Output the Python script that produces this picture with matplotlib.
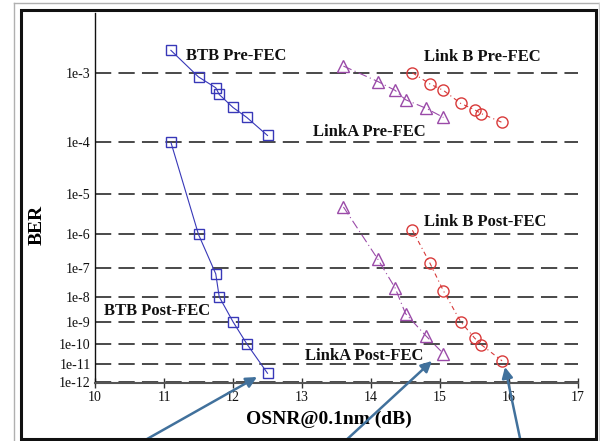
"""BER vs OSNR for back-to-back and two links, pre- and post-FEC."""

import math

import matplotlib
matplotlib.use("Agg")
import matplotlib.pyplot as plt
import numpy as np
from matplotlib.lines import Line2D
from matplotlib.patches import Rectangle
from matplotlib.ticker import NullLocator


OSNR_BTB = [11.1, 11.5, 11.75, 11.8, 12.0, 12.2, 12.5]
BER_BTB_PRE = [1.8e-3, 8.9e-4, 6.5e-4, 5.3e-4, 3.5e-4, 2.5e-4, 1.3e-4]
BER_BTB_POST = [1e-4, 1e-6, 6.5e-8, 1e-8, 1e-9, 1e-10, 3e-12]

OSNR_LINK_A = [13.6, 14.1, 14.35, 14.5, 14.8, 15.05]
BER_LINK_A_PRE = [1.2e-3, 7.8e-4, 6.0e-4, 4.5e-4, 3.4e-4, 2.5e-4]
BER_LINK_A_POST = [5e-6, 1.9e-7, 2.1e-8, 2.2e-9, 2.3e-10, 3.3e-11]

OSNR_LINK_B = [14.6, 14.85, 15.05, 15.3, 15.5, 15.6, 15.9]
BER_LINK_B_PRE = [1e-3, 7.3e-4, 6.0e-4, 4.0e-4, 3.25e-4, 2.85e-4, 2.1e-4]
BER_LINK_B_POST = [1.3e-6, 1.5e-7, 1.65e-8, 1e-9, 1.9e-10, 9e-11, 1.4e-11]

BER_TICKS = [1e-3, 1e-4, 1e-5, 1e-6, 1e-7, 1e-8, 1e-9, 1e-10, 1e-11, 1e-12]
BER_TICK_LABELS = ["1e-3", "1e-4", "1e-5", "1e-6", "1e-7", "1e-8", "1e-9", "1e-10", "1e-11", "1e-12"]
OSNR_TICKS = [10, 11, 12, 13, 14, 15, 16, 17]

SERIF = "Liberation Serif"
SQRT2 = math.sqrt(2.0)
_erfc = np.vectorize(math.erfc, otypes=[float])


def q_from_ber(ber):
    ber = np.clip(np.asarray(ber, dtype=float), 1e-300, 0.4999)
    lo = np.zeros_like(ber)
    hi = np.full_like(ber, 38.0)
    for _ in range(70):
        mid = 0.5 * (lo + hi)
        too_big = 0.5 * _erfc(mid / SQRT2) < ber
        hi = np.where(too_big, mid, hi)
        lo = np.where(too_big, lo, mid)
    return 0.5 * (lo + hi)


def forward(ber):
    # Q-factor in dB, negated so that high BER sits at the top
    return -20.0 * np.log10(q_from_ber(ber))


def inverse(v):
    q = 10.0 ** (-np.asarray(v, dtype=float) / 20.0)
    return 0.5 * _erfc(q / SQRT2)


def main() -> None:
    fig = plt.figure(figsize=(6.0, 4.41), dpi=100)
    ax = fig.add_axes([95 / 600, 1 - 383 / 441, 483 / 600, 370 / 441])

    ax.set_yscale("function", functions=(forward, inverse))
    ax.set_xlim(10, 17)
    ax.set_ylim(8.3e-13, 4.2e-3)

    blue, purple, red = "#3838b8", "#9a4aa8", "#d83a3a"
    ax.plot(OSNR_BTB, BER_BTB_PRE, color=blue, lw=0.8, marker="s", ms=7,
            mfc="none", mec=blue, mew=1.0)
    ax.plot(OSNR_BTB, BER_BTB_POST, color=blue, lw=0.8, marker="s", ms=7,
            mfc="none", mec=blue, mew=1.0)
    ax.plot(OSNR_LINK_A, BER_LINK_A_PRE, color=purple, lw=0.8, ls=(0, (8, 3, 1, 3)),
            marker="^", ms=9, mfc="none", mec=purple, mew=1.0)
    ax.plot(OSNR_LINK_A, BER_LINK_A_POST, color=purple, lw=0.8, ls=(0, (8, 3, 1, 3)),
            marker="^", ms=9, mfc="none", mec=purple, mew=1.0)
    ax.plot(OSNR_LINK_B, BER_LINK_B_PRE, color=red, lw=0.8, ls=(0, (4, 3, 1, 3)),
            marker="o", ms=8, mfc="none", mec=red, mew=1.0)
    ax.plot(OSNR_LINK_B, BER_LINK_B_POST, color=red, lw=0.8, ls=(0, (4, 3, 1, 3)),
            marker="o", ms=8, mfc="none", mec=red, mew=1.0)

    ax.set_yticks(BER_TICKS)
    ax.set_yticklabels(BER_TICK_LABELS)
    ax.yaxis.set_minor_locator(NullLocator())
    ax.set_xticks(OSNR_TICKS)
    ax.set_xticklabels([str(t) for t in OSNR_TICKS])
    ax.tick_params(axis="y", length=0, pad=3, labelsize=10, labelcolor="#111111")
    ax.tick_params(axis="x", direction="inout", length=7, width=1, color="#333333",
                   pad=2, labelsize=10, labelcolor="#111111")
    for label in ax.get_xticklabels() + ax.get_yticklabels():
        label.set_family(SERIF)

    ax.grid(axis="y", color="#3a3a3a", lw=1.3, ls=(0, (9, 4)))
    ax.grid(axis="x", visible=False)
    ax.set_axisbelow(True)
    ax.spines["top"].set_visible(False)
    ax.spines["right"].set_visible(False)
    ax.spines["left"].set_color("#111111")
    ax.spines["left"].set_linewidth(1.0)
    ax.spines["bottom"].set_color("#555555")
    ax.spines["bottom"].set_linewidth(1.5)

    ax.set_xlabel("OSNR@0.1nm (dB)", family=SERIF, fontsize=14, fontweight="bold",
                  va="baseline")
    ax.xaxis.set_label_coords(0.4845, -0.111)
    ax.set_ylabel("BER", family=SERIF, fontsize=14, fontweight="bold", va="center")
    ax.yaxis.set_label_coords(-0.12, 0.427)

    notes = [
        ("BTB Pre-FEC", 0.188, 0.873),
        ("Link B Pre-FEC", 0.681, 0.870),
        ("LinkA Pre-FEC", 0.451, 0.668),
        ("Link B Post-FEC", 0.681, 0.424),
        ("BTB Post-FEC", 0.019, 0.184),
        ("LinkA Post-FEC", 0.435, 0.062),
    ]
    for text, x, y in notes:
        ax.text(x, y, text, transform=ax.transAxes, family=SERIF, fontsize=12,
                fontweight="bold", color="#111111", ha="left", va="baseline")

    # arrows coming up from below the plot
    arrow_color = "#41719c"
    for (x0, y0), (x1, y1) in [((140, 443), (257, 377)),
                               ((343, 443), (432, 361)),
                               ((521, 443), (505, 367))]:
        ax.annotate("", xy=(x1, 441 - y1), xycoords="figure pixels",
                    xytext=(x0, 441 - y0), textcoords="figure pixels",
                    annotation_clip=False,
                    arrowprops=dict(arrowstyle="-|>", color=arrow_color, lw=1.8,
                                    mutation_scale=16, shrinkA=0, shrinkB=0))

    # screenshot frame
    def px(x, y):
        return x / 600, 1 - y / 441

    fig.add_artist(Line2D([px(14, 0)[0], px(14, 0)[0]], [px(0, 3)[1], 0],
                          color="#b0b0b0", lw=1.0, transform=fig.transFigure))
    fig.add_artist(Line2D([px(14, 0)[0], px(599, 0)[0]], [px(0, 3)[1], px(0, 3)[1]],
                          color="#b0b0b0", lw=1.0, transform=fig.transFigure))
    fig.add_artist(Line2D([px(599, 0)[0], px(599, 0)[0]], [px(0, 3)[1], 0],
                          color="#d0d0d0", lw=1.0, transform=fig.transFigure))
    x0, y0 = px(21, 439)
    x1, y1 = px(596, 10)
    fig.add_artist(Rectangle((x0, y0), x1 - x0, y1 - y0, fill=False,
                             edgecolor="#111111", lw=2.2, transform=fig.transFigure))

    fig.savefig("out.png", dpi=100)
    plt.close(fig)


if __name__ == "__main__":
    main()
